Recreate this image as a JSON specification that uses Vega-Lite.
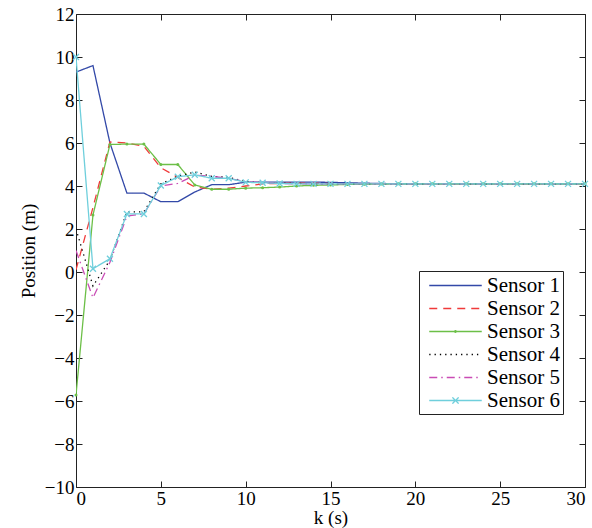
{
 "$schema": "https://vega.github.io/schema/vega-lite/v6.json",
 "width": 509, "height": 473,
 "autosize": {"type": "none"},
 "padding": {"left": 76, "top": 14, "right": 7, "bottom": 41},
 "background": "white",
 "config": {
  "font": "Liberation Serif",
  "view": {"stroke": "#222", "strokeWidth": 1},
  "axis": {"grid": false, "domain": false, "tickColor": "#222", "tickSize": -6, "tickWidth": 1,
   "labelFont": "Liberation Serif", "labelFontSize": 19, "labelColor": "black",
   "titleFont": "Liberation Serif", "titleFontSize": 19, "titleFontWeight": "normal", "titleColor": "black"},
  "legend": {"labelFont": "Liberation Serif"}
 },
 "datasets": {
  "d": [
   {"k":0,"s":"Sensor 1","y":9.3},{"k":1,"s":"Sensor 1","y":9.6},{"k":2,"s":"Sensor 1","y":6.0},{"k":3,"s":"Sensor 1","y":3.67},{"k":4,"s":"Sensor 1","y":3.67},{"k":5,"s":"Sensor 1","y":3.27},{"k":6,"s":"Sensor 1","y":3.27},{"k":7,"s":"Sensor 1","y":3.72},{"k":8,"s":"Sensor 1","y":4.06},{"k":9,"s":"Sensor 1","y":4.06},{"k":10,"s":"Sensor 1","y":4.18},{"k":11,"s":"Sensor 1","y":4.18},{"k":12,"s":"Sensor 1","y":4.18},{"k":13,"s":"Sensor 1","y":4.18},{"k":14,"s":"Sensor 1","y":4.18},{"k":15,"s":"Sensor 1","y":4.17},{"k":16,"s":"Sensor 1","y":4.15},{"k":17,"s":"Sensor 1","y":4.13},{"k":18,"s":"Sensor 1","y":4.12},{"k":19,"s":"Sensor 1","y":4.1},{"k":20,"s":"Sensor 1","y":4.1},{"k":21,"s":"Sensor 1","y":4.1},{"k":22,"s":"Sensor 1","y":4.1},{"k":23,"s":"Sensor 1","y":4.1},{"k":24,"s":"Sensor 1","y":4.1},{"k":25,"s":"Sensor 1","y":4.1},{"k":26,"s":"Sensor 1","y":4.1},{"k":27,"s":"Sensor 1","y":4.1},{"k":28,"s":"Sensor 1","y":4.1},{"k":29,"s":"Sensor 1","y":4.1},{"k":30,"s":"Sensor 1","y":4.1},
   {"k":0,"s":"Sensor 2","y":0.1},{"k":1,"s":"Sensor 2","y":3.0},{"k":2,"s":"Sensor 2","y":6.05},{"k":3,"s":"Sensor 2","y":6.0},{"k":4,"s":"Sensor 2","y":5.85},{"k":5,"s":"Sensor 2","y":4.85},{"k":6,"s":"Sensor 2","y":4.4},{"k":7,"s":"Sensor 2","y":3.95},{"k":8,"s":"Sensor 2","y":3.85},{"k":9,"s":"Sensor 2","y":3.9},{"k":10,"s":"Sensor 2","y":4.0},{"k":11,"s":"Sensor 2","y":4.1},{"k":12,"s":"Sensor 2","y":4.12},{"k":13,"s":"Sensor 2","y":4.13},{"k":14,"s":"Sensor 2","y":4.13},{"k":15,"s":"Sensor 2","y":4.12},{"k":16,"s":"Sensor 2","y":4.1},{"k":17,"s":"Sensor 2","y":4.1},{"k":18,"s":"Sensor 2","y":4.1},{"k":19,"s":"Sensor 2","y":4.1},{"k":20,"s":"Sensor 2","y":4.1},{"k":21,"s":"Sensor 2","y":4.1},{"k":22,"s":"Sensor 2","y":4.1},{"k":23,"s":"Sensor 2","y":4.1},{"k":24,"s":"Sensor 2","y":4.1},{"k":25,"s":"Sensor 2","y":4.1},{"k":26,"s":"Sensor 2","y":4.1},{"k":27,"s":"Sensor 2","y":4.1},{"k":28,"s":"Sensor 2","y":4.1},{"k":29,"s":"Sensor 2","y":4.1},{"k":30,"s":"Sensor 2","y":4.1},
   {"k":0,"s":"Sensor 3","y":-5.72},{"k":1,"s":"Sensor 3","y":2.65},{"k":2,"s":"Sensor 3","y":5.93},{"k":3,"s":"Sensor 3","y":5.95},{"k":4,"s":"Sensor 3","y":5.95},{"k":5,"s":"Sensor 3","y":5.0},{"k":6,"s":"Sensor 3","y":5.0},{"k":7,"s":"Sensor 3","y":4.05},{"k":8,"s":"Sensor 3","y":3.85},{"k":9,"s":"Sensor 3","y":3.85},{"k":10,"s":"Sensor 3","y":3.9},{"k":11,"s":"Sensor 3","y":3.92},{"k":12,"s":"Sensor 3","y":3.95},{"k":13,"s":"Sensor 3","y":4.0},{"k":14,"s":"Sensor 3","y":4.03},{"k":15,"s":"Sensor 3","y":4.05},{"k":16,"s":"Sensor 3","y":4.07},{"k":17,"s":"Sensor 3","y":4.08},{"k":18,"s":"Sensor 3","y":4.09},{"k":19,"s":"Sensor 3","y":4.1},{"k":20,"s":"Sensor 3","y":4.1},{"k":21,"s":"Sensor 3","y":4.1},{"k":22,"s":"Sensor 3","y":4.1},{"k":23,"s":"Sensor 3","y":4.1},{"k":24,"s":"Sensor 3","y":4.1},{"k":25,"s":"Sensor 3","y":4.1},{"k":26,"s":"Sensor 3","y":4.1},{"k":27,"s":"Sensor 3","y":4.1},{"k":28,"s":"Sensor 3","y":4.1},{"k":29,"s":"Sensor 3","y":4.1},{"k":30,"s":"Sensor 3","y":4.1},
   {"k":0,"s":"Sensor 4","y":2.0},{"k":1,"s":"Sensor 4","y":-0.65},{"k":2,"s":"Sensor 4","y":0.55},{"k":3,"s":"Sensor 4","y":2.8},{"k":4,"s":"Sensor 4","y":2.8},{"k":5,"s":"Sensor 4","y":4.1},{"k":6,"s":"Sensor 4","y":4.45},{"k":7,"s":"Sensor 4","y":4.65},{"k":8,"s":"Sensor 4","y":4.45},{"k":9,"s":"Sensor 4","y":4.4},{"k":10,"s":"Sensor 4","y":4.2},{"k":11,"s":"Sensor 4","y":4.15},{"k":12,"s":"Sensor 4","y":4.13},{"k":13,"s":"Sensor 4","y":4.12},{"k":14,"s":"Sensor 4","y":4.1},{"k":15,"s":"Sensor 4","y":4.1},{"k":16,"s":"Sensor 4","y":4.1},{"k":17,"s":"Sensor 4","y":4.1},{"k":18,"s":"Sensor 4","y":4.1},{"k":19,"s":"Sensor 4","y":4.1},{"k":20,"s":"Sensor 4","y":4.1},{"k":21,"s":"Sensor 4","y":4.1},{"k":22,"s":"Sensor 4","y":4.1},{"k":23,"s":"Sensor 4","y":4.1},{"k":24,"s":"Sensor 4","y":4.1},{"k":25,"s":"Sensor 4","y":4.1},{"k":26,"s":"Sensor 4","y":4.1},{"k":27,"s":"Sensor 4","y":4.1},{"k":28,"s":"Sensor 4","y":4.1},{"k":29,"s":"Sensor 4","y":4.1},{"k":30,"s":"Sensor 4","y":4.1},
   {"k":0,"s":"Sensor 5","y":1.0},{"k":1,"s":"Sensor 5","y":-1.2},{"k":2,"s":"Sensor 5","y":0.45},{"k":3,"s":"Sensor 5","y":2.6},{"k":4,"s":"Sensor 5","y":2.7},{"k":5,"s":"Sensor 5","y":4.0},{"k":6,"s":"Sensor 5","y":4.12},{"k":7,"s":"Sensor 5","y":4.5},{"k":8,"s":"Sensor 5","y":4.45},{"k":9,"s":"Sensor 5","y":4.35},{"k":10,"s":"Sensor 5","y":4.2},{"k":11,"s":"Sensor 5","y":4.15},{"k":12,"s":"Sensor 5","y":4.12},{"k":13,"s":"Sensor 5","y":4.1},{"k":14,"s":"Sensor 5","y":4.1},{"k":15,"s":"Sensor 5","y":4.1},{"k":16,"s":"Sensor 5","y":4.1},{"k":17,"s":"Sensor 5","y":4.1},{"k":18,"s":"Sensor 5","y":4.1},{"k":19,"s":"Sensor 5","y":4.1},{"k":20,"s":"Sensor 5","y":4.1},{"k":21,"s":"Sensor 5","y":4.1},{"k":22,"s":"Sensor 5","y":4.1},{"k":23,"s":"Sensor 5","y":4.1},{"k":24,"s":"Sensor 5","y":4.1},{"k":25,"s":"Sensor 5","y":4.1},{"k":26,"s":"Sensor 5","y":4.1},{"k":27,"s":"Sensor 5","y":4.1},{"k":28,"s":"Sensor 5","y":4.1},{"k":29,"s":"Sensor 5","y":4.1},{"k":30,"s":"Sensor 5","y":4.1},
   {"k":0,"s":"Sensor 6","y":10.0},{"k":1,"s":"Sensor 6","y":0.15},{"k":2,"s":"Sensor 6","y":0.62},{"k":3,"s":"Sensor 6","y":2.7},{"k":4,"s":"Sensor 6","y":2.7},{"k":5,"s":"Sensor 6","y":4.02},{"k":6,"s":"Sensor 6","y":4.43},{"k":7,"s":"Sensor 6","y":4.52},{"k":8,"s":"Sensor 6","y":4.36},{"k":9,"s":"Sensor 6","y":4.36},{"k":10,"s":"Sensor 6","y":4.17},{"k":11,"s":"Sensor 6","y":4.15},{"k":12,"s":"Sensor 6","y":4.12},{"k":13,"s":"Sensor 6","y":4.1},{"k":14,"s":"Sensor 6","y":4.1},{"k":15,"s":"Sensor 6","y":4.1},{"k":16,"s":"Sensor 6","y":4.1},{"k":17,"s":"Sensor 6","y":4.1},{"k":18,"s":"Sensor 6","y":4.1},{"k":19,"s":"Sensor 6","y":4.1},{"k":20,"s":"Sensor 6","y":4.1},{"k":21,"s":"Sensor 6","y":4.1},{"k":22,"s":"Sensor 6","y":4.1},{"k":23,"s":"Sensor 6","y":4.1},{"k":24,"s":"Sensor 6","y":4.1},{"k":25,"s":"Sensor 6","y":4.1},{"k":26,"s":"Sensor 6","y":4.1},{"k":27,"s":"Sensor 6","y":4.1},{"k":28,"s":"Sensor 6","y":4.1},{"k":29,"s":"Sensor 6","y":4.1},{"k":30,"s":"Sensor 6","y":4.1}
  ]
 },
 "data": {"name": "d"},
 "layer": [
  {
   "mark": {"type": "line", "strokeWidth": 1.3, "clip": true},
   "encoding": {
    "x": {"field": "k", "type": "quantitative", "scale": {"domain": [0, 30], "nice": false},
     "axis": {"values": [0, 5, 10, 15, 20, 25, 30], "title": "k (s)", "labelPadding": 8, "titlePadding": 0}},
    "y": {"field": "y", "type": "quantitative", "scale": {"domain": [-10, 12], "nice": false},
     "axis": {"values": [-10, -8, -6, -4, -2, 0, 2, 4, 6, 8, 10, 12], "title": "Position (m)", "labelPadding": 8, "titlePadding": 6, "labelExpr": "replace(datum.label, '-', '\u2212')"}},
    "color": {"field": "s", "type": "nominal",
     "scale": {"domain": ["Sensor 1", "Sensor 2", "Sensor 3", "Sensor 4", "Sensor 5", "Sensor 6"],
      "range": ["#3349a8", "#f03a3a", "#6cbf47", "#000000", "#c94cb5", "#6fcfdc"]},
     "legend": {"title": null, "orient": "none", "legendX": 343, "legendY": 257, "strokeColor": "#222", "fillColor": "white",
      "padding": 3, "labelFont": "Liberation Serif", "labelFontSize": 21, "labelColor": "black", "labelOffset": 20,
      "symbolSize": 441, "symbolOffset": 22, "symbolStrokeWidth": 1.3, "rowPadding": 1, "labelLimit": 300,
      "encode": {"symbols": {"update": {"shape": {"signal": "datum.value === 'Sensor 6' ? 'M-2.5,0H2.5M-0.3,-0.3L0.3,0.3M-0.3,0.3L0.3,-0.3' : datum.value === 'Sensor 3' ? 'M-2.5,0H2.5M-0.08,0A0.08,0.08,0,1,1,0.08,0A0.08,0.08,0,1,1,-0.08,0' : 'M-2.5,0H2.5'"}}}}}},
    "strokeDash": {"field": "s", "type": "nominal",
     "scale": {"domain": ["Sensor 1", "Sensor 2", "Sensor 3", "Sensor 4", "Sensor 5", "Sensor 6"],
      "range": [[1, 0], [8, 6], [1, 0], [1.3, 4], [8, 4, 1.5, 4], [1, 0]]},
     "legend": {"title": null, "orient": "none", "legendX": 343, "legendY": 257, "strokeColor": "#222", "fillColor": "white",
      "padding": 3, "labelFont": "Liberation Serif", "labelFontSize": 21, "labelColor": "black", "labelOffset": 20,
      "symbolSize": 441, "symbolOffset": 22, "symbolStrokeWidth": 1.3, "rowPadding": 1, "labelLimit": 300,
      "encode": {"symbols": {"update": {"shape": {"signal": "datum.value === 'Sensor 6' ? 'M-2.5,0H2.5M-0.3,-0.3L0.3,0.3M-0.3,0.3L0.3,-0.3' : datum.value === 'Sensor 3' ? 'M-2.5,0H2.5M-0.08,0A0.08,0.08,0,1,1,0.08,0A0.08,0.08,0,1,1,-0.08,0' : 'M-2.5,0H2.5'"}}}}}}
   }
  },
  {
   "transform": [{"filter": "datum.s === 'Sensor 3'"}],
   "mark": {"type": "point", "shape": "circle", "filled": true, "size": 9, "color": "#6cbf47", "opacity": 1},
   "encoding": {
    "x": {"field": "k", "type": "quantitative", "axis": null},
    "y": {"field": "y", "type": "quantitative", "axis": null}
   }
  },
  {
   "transform": [{"filter": "datum.s === 'Sensor 6'"}],
   "mark": {"type": "point", "shape": "M-1,-1L1,1M-1,1L1,-1", "filled": false, "size": 36, "strokeWidth": 1.3, "color": "#6fcfdc", "opacity": 1},
   "encoding": {
    "x": {"field": "k", "type": "quantitative", "axis": null},
    "y": {"field": "y", "type": "quantitative", "axis": null}
   }
  },
  {
   "mark": {"type": "point", "opacity": 0},
   "encoding": {
    "x": {"field": "k", "type": "quantitative", "axis": {"orient": "top", "values": [0, 5, 10, 15, 20, 25, 30], "labels": false, "title": null}},
    "y": {"field": "y", "type": "quantitative", "axis": {"orient": "right", "values": [-10, -8, -6, -4, -2, 0, 2, 4, 6, 8, 10, 12], "labels": false, "title": null}}
   }
  }
 ],
 "resolve": {"axis": {"x": "independent", "y": "independent"}}
}
